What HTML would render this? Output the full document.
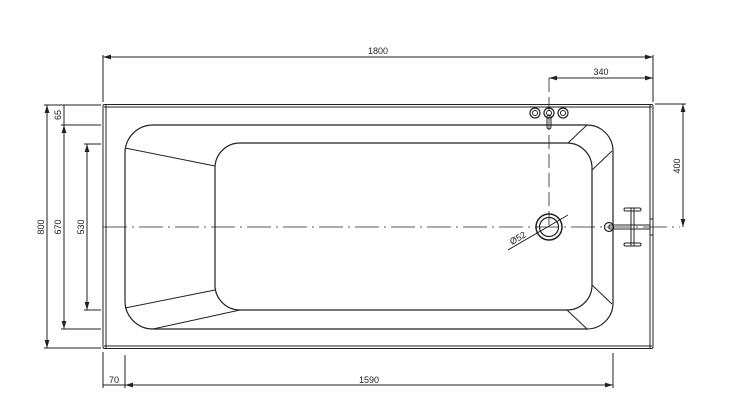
<!DOCTYPE html>
<html><head><style>body{margin:0;background:#fff}svg{display:block}text{font-family:"Liberation Sans",sans-serif;font-size:9px;fill:#222}</style></head>
<body>
<svg width="733" height="419" viewBox="0 0 733 419" xmlns="http://www.w3.org/2000/svg">
<defs><marker id="a" viewBox="0 0 10 6" refX="10" refY="3" markerWidth="8" markerHeight="5" orient="auto-start-reverse"><path d="M0,0L10,3L0,6z" fill="#222"/></marker></defs>
<g stroke="#222" fill="none" stroke-width="1">
<!-- outer rim -->
<rect x="103" y="104.5" width="550" height="244" rx="1.5"/>
<line x1="106" y1="105" x2="106" y2="348"/>
<line x1="104" y1="107" x2="652" y2="107"/>
<line x1="104" y1="346" x2="652" y2="346"/>
<line x1="650" y1="105" x2="650" y2="348"/>
<!-- basin outer -->
<path d="M125,153 A28,28 0 0 1 153,125 L587,125 A26,26 0 0 1 613,151 L613,303 A26,26 0 0 1 587,329 L153,329 A28,28 0 0 1 125,301 Z" stroke-width="1.2"/>
<!-- basin inner -->
<path d="M215,168 A25,25 0 0 1 240,143 L567,143 A25,25 0 0 1 592,168 L592,285 A25,25 0 0 1 567,310 L240,310 A25,25 0 0 1 215,285 Z" stroke-width="1.2"/>
<line x1="125" y1="148" x2="215" y2="166"/>
<line x1="125" y1="308" x2="215" y2="290"/>
<line x1="153" y1="329" x2="240" y2="310"/>
<line x1="568" y1="143" x2="587" y2="125"/>
<line x1="592" y1="170" x2="612" y2="151"/>
<line x1="592" y1="285" x2="612" y2="304"/>
<line x1="567" y1="310" x2="587" y2="329"/>
<!-- centerlines -->
<line x1="103" y1="227" x2="680" y2="227" stroke-dasharray="24,5,2,5" stroke-width="0.8"/>
<line x1="549" y1="78" x2="549" y2="227" stroke-dasharray="14,5" stroke-width="0.8"/>
<!-- drain -->
<circle cx="549" cy="227" r="13" stroke-width="1.5"/>
<circle cx="549" cy="227" r="9.5" stroke-width="1.2"/>
<line x1="508" y1="250" x2="568" y2="215"/>
<!-- taps -->
<circle cx="535" cy="113" r="5" stroke-width="1.2"/><circle cx="535" cy="113" r="2.5"/>
<circle cx="549" cy="113" r="5" stroke-width="1.2"/><circle cx="549" cy="113" r="2.5"/>
<circle cx="563" cy="113" r="5" stroke-width="1.2"/><circle cx="563" cy="113" r="2.5"/>
<rect x="547" y="115" width="4" height="14" rx="2"/>
<!-- mixer -->
<circle cx="609" cy="227" r="4.5" stroke-width="1.2"/>
<rect x="609" y="225" width="41" height="4" rx="1"/>
<rect x="631" y="208" width="3" height="38"/>
<rect x="624" y="208" width="17" height="3" rx="1.5"/>
<rect x="624" y="243" width="17" height="3" rx="1.5"/>
<rect x="650" y="219" width="3" height="16" rx="1"/>
<!-- dims top -->
<line x1="103" y1="102" x2="103" y2="55"/><line x1="653" y1="102" x2="653" y2="55"/>
<line x1="103" y1="57" x2="653" y2="57" marker-start="url(#a)" marker-end="url(#a)"/>
<line x1="549" y1="78" x2="653" y2="78" marker-start="url(#a)" marker-end="url(#a)"/>
<line x1="655" y1="104" x2="686" y2="104"/>
<line x1="683" y1="104" x2="683" y2="227" marker-start="url(#a)" marker-end="url(#a)"/>
<!-- left dims -->
<line x1="44" y1="105" x2="101" y2="105"/><line x1="44" y1="348" x2="101" y2="348"/>
<line x1="47" y1="105" x2="47" y2="348" marker-start="url(#a)" marker-end="url(#a)"/>
<line x1="61" y1="125" x2="101" y2="125"/><line x1="61" y1="329" x2="101" y2="329"/>
<line x1="64" y1="125" x2="64" y2="329" marker-start="url(#a)" marker-end="url(#a)"/>
<line x1="64" y1="105" x2="64" y2="125"/>
<line x1="84" y1="144" x2="101" y2="144"/><line x1="84" y1="310" x2="101" y2="310"/>
<line x1="87" y1="144" x2="87" y2="310" marker-start="url(#a)" marker-end="url(#a)"/>
<!-- bottom dims -->
<line x1="103" y1="352" x2="103" y2="388"/><line x1="125" y1="355" x2="125" y2="388"/><line x1="613" y1="353" x2="613" y2="388"/>
<line x1="103" y1="385" x2="125" y2="385"/>
<line x1="125" y1="385" x2="613" y2="385" marker-start="url(#a)" marker-end="url(#a)"/>
</g>
<text x="378" y="54" text-anchor="middle">1800</text>
<text x="601" y="75" text-anchor="middle">340</text>
<text transform="translate(680,166) rotate(-90)" text-anchor="middle">400</text>
<text transform="translate(44,227) rotate(-90)" text-anchor="middle">800</text>
<text transform="translate(61,227) rotate(-90)" text-anchor="middle">670</text>
<text transform="translate(84,227) rotate(-90)" text-anchor="middle">530</text>
<text transform="translate(61,115) rotate(-90)" text-anchor="middle">65</text>
<text x="114" y="383" text-anchor="middle">70</text>
<text x="369" y="383" text-anchor="middle">1590</text>
<text transform="translate(512,245) rotate(-30)">Ø52</text>
</svg>
</body></html>
